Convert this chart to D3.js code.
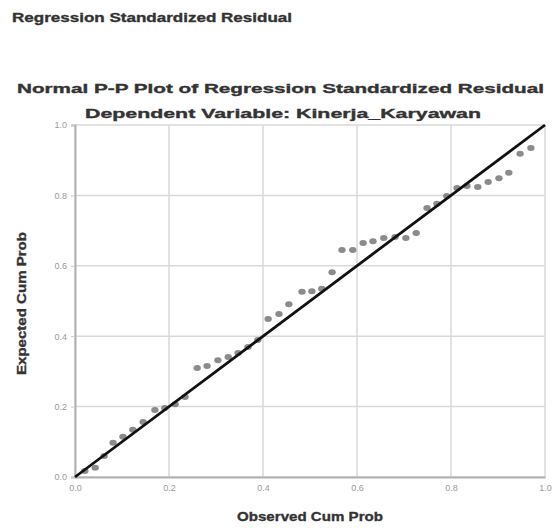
<!DOCTYPE html>
<html>
<head>
<meta charset="utf-8">
<script src="https://cdn.jsdelivr.net/npm/d3@7"></script>
<style>
  body { margin: 0; background: #fff; }
  text { font-family: Arial, "Liberation Sans", sans-serif; }
</style>
</head>
<body>
<div id="chart"></div>
<script>
// observed vs expected cumulative probabilities
var observed = [0.021, 0.043, 0.062, 0.081, 0.102, 0.123, 0.145, 0.170, 0.191, 0.213,
  0.234, 0.260, 0.281, 0.304, 0.326, 0.347, 0.368, 0.389, 0.411, 0.434,
  0.455, 0.483, 0.504, 0.525, 0.547, 0.568, 0.591, 0.613, 0.634, 0.657,
  0.681, 0.704, 0.726, 0.749, 0.770, 0.791, 0.813, 0.834, 0.857, 0.879,
  0.902, 0.923, 0.947, 0.970];
var expected = [0.017, 0.026, 0.060, 0.097, 0.114, 0.134, 0.156, 0.190, 0.196, 0.207,
  0.227, 0.310, 0.315, 0.332, 0.341, 0.352, 0.369, 0.389, 0.449, 0.463,
  0.491, 0.526, 0.528, 0.535, 0.582, 0.645, 0.645, 0.665, 0.670, 0.679,
  0.682, 0.679, 0.693, 0.764, 0.776, 0.798, 0.821, 0.827, 0.824, 0.838,
  0.849, 0.864, 0.918, 0.935];
var tickValues = [0, 0.2, 0.4, 0.6, 0.8, 1.0];

var width = 555, height = 528;
var margin = {left: 75, right: 10, top: 125, bottom: 51};

var svg = d3.select('#chart').append('svg')
  .attr('width', width)
  .attr('height', height);

var x = d3.scaleLinear().domain([0, 1]).range([margin.left, width - margin.right]);
var y = d3.scaleLinear().domain([0, 1]).range([height - margin.bottom, margin.top]);

// grid
svg.append('g')
  .selectAll('line.vg')
  .data(tickValues)
  .enter().append('line')
  .attr('x1', function(d) { return x(d); })
  .attr('x2', function(d) { return x(d); })
  .attr('y1', y(0)).attr('y2', y(1))
  .style('stroke', '#d9d9d9').style('stroke-width', 1.5);

svg.append('g')
  .selectAll('line.hg')
  .data(tickValues)
  .enter().append('line')
  .attr('y1', function(d) { return y(d); })
  .attr('y2', function(d) { return y(d); })
  .attr('x1', x(0)).attr('x2', x(1))
  .style('stroke', '#d9d9d9').style('stroke-width', 1.5);

// axes
var xAxis = svg.append('g')
  .attr('transform', 'translate(0,' + y(0) + ')')
  .call(d3.axisBottom(x).tickValues(tickValues).tickFormat(d3.format('.1f')).tickSize(0).tickPadding(8));
var yAxis = svg.append('g')
  .attr('transform', 'translate(' + x(0) + ',0)')
  .call(d3.axisLeft(y).tickValues(tickValues).tickFormat(d3.format('.1f')).tickSize(4).tickPadding(4));

[xAxis, yAxis].forEach(function(a) {
  a.select('.domain').style('stroke', '#b0b0b0').style('stroke-width', 2);
  a.selectAll('.tick line').style('stroke', '#c8c8c8');
  a.selectAll('.tick text').style('fill', '#999').style('font-size', '9px')
    .style('font-family', 'Arial, "Liberation Sans", sans-serif');
});

// points
var pts = observed.map(function(d, i) { return {o: d, e: expected[i]}; });
svg.append('g')
  .selectAll('ellipse')
  .data(pts)
  .enter().append('ellipse')
  .attr('cx', function(d) { return x(d.o); })
  .attr('cy', function(d) { return y(d.e); })
  .attr('rx', 3.7).attr('ry', 3)
  .style('fill', '#777')
  .style('opacity', 0.85);

// reference line
svg.append('line')
  .attr('x1', x(0)).attr('y1', y(0))
  .attr('x2', x(1)).attr('y2', y(1))
  .style('stroke', '#111').style('stroke-width', 2.8);

// titles
function title(sel) {
  return sel.style('font-size', '13px').style('font-weight', 'bold')
    .style('fill', '#333').style('stroke', '#333').style('stroke-width', 0.35);
}

title(svg.append('text')
  .attr('x', 12).attr('y', 22)
  .attr('textLength', 280).attr('lengthAdjust', 'spacingAndGlyphs'))
  .text('Regression Standardized Residual');

title(svg.append('text')
  .attr('x', 17).attr('y', 93)
  .attr('textLength', 527).attr('lengthAdjust', 'spacingAndGlyphs'))
  .text('Normal P-P Plot of Regression Standardized Residual');

title(svg.append('text')
  .attr('x', 85).attr('y', 118)
  .attr('textLength', 396).attr('lengthAdjust', 'spacingAndGlyphs'))
  .text('Dependent Variable: Kinerja_Karyawan');

title(svg.append('text')
  .attr('x', 237).attr('y', 521)
  .attr('textLength', 146).attr('lengthAdjust', 'spacingAndGlyphs'))
  .text('Observed Cum Prob');

title(svg.append('text')
  .attr('transform', 'translate(26,375) rotate(-90)')
  .attr('textLength', 143).attr('lengthAdjust', 'spacingAndGlyphs'))
  .text('Expected Cum Prob');
</script>
</body>
</html>
